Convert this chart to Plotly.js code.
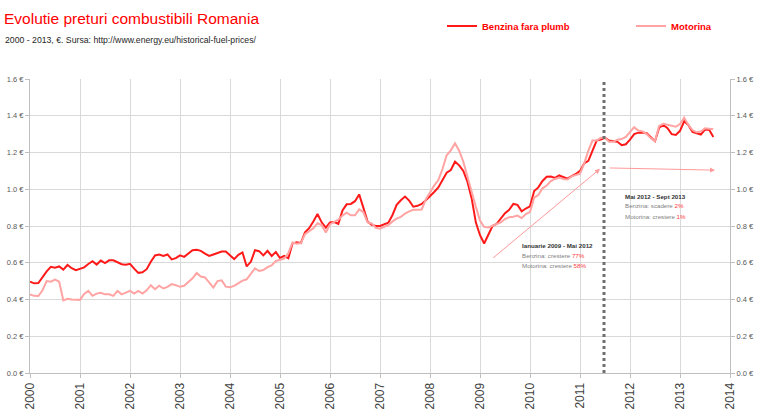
<!DOCTYPE html>
<html>
<head>
<meta charset="utf-8">
<script src="https://cdn.plot.ly/plotly-3.0.1.min.js"></script>
<style>
  html, body { margin: 0; padding: 0; background: #ffffff; }
  #chart { width: 768px; height: 416px; }
</style>
</head>
<body>
<div id="chart"></div>
<script>
// Monthly fuel prices in Romania (EUR per litre), January 2000 - September 2013
const startYear = 2000;
const seriesNames = ['Benzina fara plumb', 'Motorina'];

const benzina = [
  0.497, 0.488, 0.490, 0.522, 0.553, 0.578, 0.573, 0.580, 0.563, 0.588, 0.570, 0.560,
  0.566, 0.575, 0.593, 0.608, 0.590, 0.612, 0.598, 0.613, 0.613, 0.603, 0.592, 0.589,
  0.594, 0.568, 0.545, 0.548, 0.565, 0.605, 0.640, 0.645, 0.637, 0.645, 0.618, 0.625,
  0.640, 0.632, 0.648, 0.668, 0.671, 0.665, 0.650, 0.637, 0.645, 0.655, 0.661, 0.661,
  0.643, 0.620, 0.643, 0.656, 0.580, 0.605, 0.668, 0.663, 0.640, 0.665, 0.637, 0.658,
  0.626, 0.637, 0.624, 0.705, 0.711, 0.707, 0.765, 0.788, 0.825, 0.865, 0.820, 0.791,
  0.819, 0.822, 0.812, 0.885, 0.918, 0.920, 0.935, 0.972, 0.900, 0.825, 0.806, 0.800,
  0.800, 0.807, 0.818, 0.860, 0.915, 0.940, 0.960, 0.938, 0.905, 0.910, 0.920, 0.940,
  0.960, 0.985, 1.010, 1.050, 1.090, 1.105, 1.150, 1.130, 1.100, 1.040, 0.950, 0.820,
  0.750, 0.705, 0.750, 0.800, 0.812, 0.840, 0.870, 0.888, 0.920, 0.915, 0.880, 0.895,
  0.907, 0.990, 1.010, 1.045, 1.068, 1.069, 1.062, 1.075, 1.065, 1.058, 1.072, 1.083,
  1.100, 1.140, 1.155, 1.210, 1.265, 1.270, 1.280, 1.265, 1.262, 1.258, 1.240, 1.245,
  1.270, 1.300, 1.308, 1.309, 1.305, 1.282, 1.262, 1.335, 1.350, 1.332, 1.300, 1.296,
  1.318, 1.370, 1.350, 1.312, 1.306, 1.298, 1.325, 1.324, 1.285
];

const motorina = [
  0.428, 0.420, 0.419, 0.450, 0.500, 0.497, 0.508, 0.497, 0.395, 0.404, 0.400, 0.400,
  0.398, 0.430, 0.447, 0.420, 0.432, 0.436, 0.428, 0.428, 0.420, 0.447, 0.428, 0.437,
  0.447, 0.432, 0.447, 0.432, 0.450, 0.478, 0.456, 0.475, 0.460, 0.469, 0.484, 0.478,
  0.469, 0.475, 0.497, 0.515, 0.544, 0.525, 0.520, 0.490, 0.465, 0.500, 0.504, 0.470,
  0.467, 0.474, 0.490, 0.503, 0.510, 0.538, 0.570, 0.555, 0.560, 0.576, 0.585, 0.610,
  0.615, 0.622, 0.652, 0.710, 0.704, 0.707, 0.755, 0.770, 0.788, 0.815, 0.805, 0.765,
  0.809, 0.822, 0.834, 0.857, 0.872, 0.858, 0.858, 0.890, 0.876, 0.820, 0.814, 0.790,
  0.785, 0.795, 0.805, 0.825, 0.840, 0.850, 0.868, 0.880, 0.888, 0.888, 0.890, 0.945,
  0.985, 1.020, 1.050, 1.110, 1.185, 1.212, 1.250, 1.210, 1.150, 1.065, 0.995, 0.905,
  0.830, 0.795, 0.792, 0.802, 0.812, 0.820, 0.838, 0.848, 0.850, 0.857, 0.843, 0.865,
  0.876, 0.955, 0.968, 1.005, 1.020, 1.045, 1.056, 1.063, 1.055, 1.053, 1.070, 1.078,
  1.085, 1.140, 1.210, 1.265, 1.265, 1.280, 1.280, 1.258, 1.258, 1.270, 1.273, 1.285,
  1.310, 1.338, 1.320, 1.315, 1.300, 1.278, 1.262, 1.345, 1.356, 1.352, 1.346, 1.340,
  1.355, 1.390, 1.350, 1.322, 1.310, 1.314, 1.332, 1.328, 1.327
];

const yearTicks = [2000, 2001, 2002, 2003, 2004, 2005, 2006, 2007, 2008, 2009, 2010, 2011, 2012, 2013, 2014];
const priceTicks = [0, 0.2, 0.4, 0.6, 0.8, 1.0, 1.2, 1.4, 1.6];
const priceLabels = priceTicks.map(v => v.toFixed(1) + ' €');

// Period summaries printed next to the arrows
const period1 = { title: 'Ianuarie 2009 - Mai 2012', benzina: 'crestere', benzinaPct: '77%', motorina: 'crestere', motorinaPct: '58%' };
const period2 = { title: 'Mai 2012 - Sept 2013', benzina: 'scadere', benzinaPct: '2%', motorina: 'crestere', motorinaPct: '1%' };

// month positions on a fractional-year axis
const months = benzina.map((_, i) => startYear + i / 12);

const SANS = '"Liberation Sans", Arial, sans-serif';
const RED = '#ff1a1a';
const PINK = '#ffa3a3';

const traces = [
  {
    x: months, y: benzina, name: seriesNames[0], type: 'scatter', mode: 'lines',
    line: { color: RED, width: 2 }
  },
  {
    // diesel is drawn against the right-hand price axis (same scale)
    x: months, y: motorina, name: seriesNames[1], type: 'scatter', mode: 'lines', yaxis: 'y2',
    line: { color: PINK, width: 2 }
  }
];

const axisFont = { family: SANS, size: 7.5, color: '#595959' };

function pctLine(label, verb, pct) {
  return '<span style="color:#808080">' + label + ': ' + verb + ' </span><span style="color:#ff3b3b">' + pct + '</span>';
}

function note(x, y, text) {
  return { x: x, y: y, xref: 'x', yref: 'y', xanchor: 'left', yanchor: 'middle', showarrow: false,
           text: text, borderpad: 0, font: { family: SANS, size: 6.2, color: '#333333' } };
}

const annotations = [
  // subtitle, placed in paper units just under the title
  { xref: 'paper', yref: 'paper', x: -26 / 700, y: 1.133, xanchor: 'left', yanchor: 'middle', showarrow: false,
    text: '2000 - 2013, €. Sursa: http://www.energy.eu/historical-fuel-prices/',
    borderpad: 0, font: { family: SANS, size: 8.7, color: '#262626' } },
  // arrows
  { x: 2011.40, y: 1.111, ax: 2009.234, ay: 0.62, xref: 'x', yref: 'y', axref: 'x', ayref: 'y',
    showarrow: true, arrowhead: 2, arrowsize: 1, arrowwidth: 1, arrowcolor: '#ff9a9a', text: '' },
  { x: 2013.70, y: 1.104, ax: 2011.566, ay: 1.116, xref: 'x', yref: 'y', axref: 'x', ayref: 'y',
    showarrow: true, arrowhead: 2, arrowsize: 1, arrowwidth: 1, arrowcolor: '#ff9a9a', text: '' },
  // period notes
  note(2009.81, 0.696, '<b>' + period1.title + '</b>'),
  note(2009.81, 0.638, pctLine('Benzina', period1.benzina, period1.benzinaPct)),
  note(2009.81, 0.583, pctLine('Motorina', period1.motorina, period1.motorinaPct)),
  note(2011.88, 0.963, '<b>' + period2.title + '</b>'),
  note(2011.88, 0.909, pctLine('Benzina', period2.benzina, period2.benzinaPct)),
  note(2011.88, 0.854, pctLine('Motorina', period2.motorina, period2.motorinaPct))
];

const layout = {
  width: 768, height: 416,
  margin: { l: 30, r: 38, t: 79, b: 43, pad: 0, autoexpand: false },
  paper_bgcolor: '#ffffff', plot_bgcolor: '#ffffff',
  showlegend: true,
  title: {
    text: 'Evolutie preturi combustibili Romania',
    x: 4 / 768, xref: 'container', xanchor: 'left',
    y: 1 - 19 / 416, yref: 'container', yanchor: 'middle',
    font: { family: SANS, size: 15.5, color: '#ff0000' }
  },
  legend: {
    orientation: 'h', xref: 'container', yref: 'container',
    x: 442 / 768, y: 1 - 26 / 416, xanchor: 'left', yanchor: 'middle',
    font: { family: SANS, size: 9.5, color: '#ff0000', weight: 'bold' },
    itemwidth: 30, entrywidth: 144, bgcolor: 'rgba(0,0,0,0)'
  },
  xaxis: {
    range: [2000, 2014], tickmode: 'array', tickvals: yearTicks, ticktext: yearTicks.map(String),
    tickangle: -90, tickfont: { family: SANS, size: 12, color: '#404040' },
    showgrid: true, gridcolor: '#d9d9d9', gridwidth: 1,
    showline: true, linecolor: '#bfbfbf', linewidth: 1,
    ticks: 'outside', ticklen: 4, tickcolor: '#bfbfbf', zeroline: false, fixedrange: true
  },
  yaxis: {
    range: [0, 1.6], tickmode: 'array', tickvals: priceTicks, ticktext: priceLabels,
    tickfont: axisFont, showgrid: true, gridcolor: '#d9d9d9', gridwidth: 1,
    showline: true, linecolor: '#bfbfbf', linewidth: 1,
    ticks: 'outside', ticklen: 4, tickcolor: '#bfbfbf', zeroline: false, fixedrange: true
  },
  yaxis2: {
    range: [0, 1.6], tickmode: 'array', tickvals: priceTicks, ticktext: priceLabels,
    overlaying: 'y', side: 'right', anchor: 'x',
    tickfont: axisFont, showgrid: false,
    showline: true, linecolor: '#bfbfbf', linewidth: 1,
    ticks: 'outside', ticklen: 4, tickcolor: '#bfbfbf', zeroline: false, fixedrange: true
  },
  shapes: [
    // boundary between the two periods
    { type: 'line', xref: 'x', yref: 'y', x0: 2011.48, x1: 2011.48, y0: 0, y1: 1.6,
      line: { color: '#707070', width: 3, dash: '3px,3px' } }
  ],
  annotations: annotations
};

Plotly.newPlot('chart', traces, layout, { displayModeBar: false, staticPlot: true });
</script>
</body>
</html>
